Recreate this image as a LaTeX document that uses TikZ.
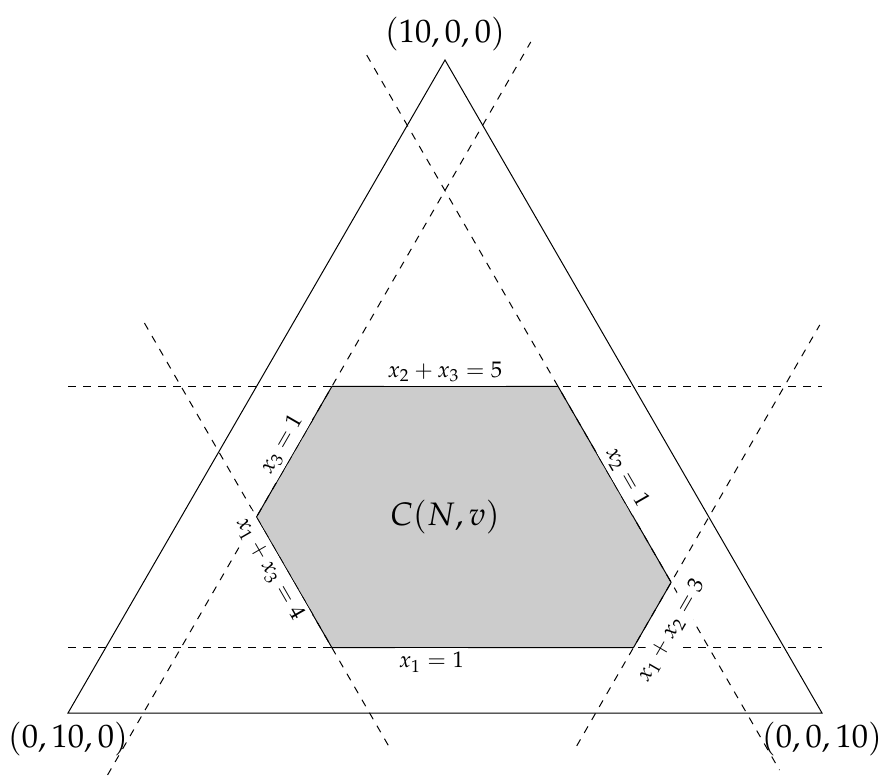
\documentclass[tikz,border=0pt]{standalone}
\usepackage{mathpazo}
\usetikzlibrary{calc}

\begin{document}
\begin{tikzpicture}[
  x=0.4pt, y=-0.4pt,
  core/.style={draw, fill=gray!40},
  cut/.style={dashed},
  eqlabel/.style={font=\small, fill=white, inner sep=1.5pt, sloped},
  vertex/.style={font=\fontsize{13}{15}\selectfont}
]
\useasboundingbox (0,0) rectangle (881,776);
\coordinate (A) at (445,60);
\coordinate (B) at (68,713);
\coordinate (C) at (822,713);

\coordinate (h1) at (barycentric cs:A=5,B=4,C=1);
\coordinate (h2) at (barycentric cs:A=5,B=1,C=4);
\coordinate (h3) at (barycentric cs:A=2,B=1,C=7);
\coordinate (h4) at (barycentric cs:A=1,B=2,C=7);
\coordinate (h5) at (barycentric cs:A=1,B=6,C=3);
\coordinate (h6) at (barycentric cs:A=3,B=6,C=1);

\filldraw[core] (h1) -- (h2) -- (h3) -- (h4) -- (h5) -- (h6) -- cycle;
\draw (A) -- (B) -- (C) -- cycle;

\draw[cut] (h1 -| B) -- (h1 -| C);
\draw[cut] (h5 -| B) -- (h5 -| C);
\draw[cut] ($(h6)!-1.975!(h1)$) -- ($(h6)!3.638!(h1)$);
\draw[cut] ($(h2)!-1.692!(h3)$) -- ($(h2)!1.958!(h3)$);
\draw[cut] ($(h6)!-1.486!(h5)$) -- ($(h6)!1.753!(h5)$);
\draw[cut] ($(h4)!-1.505!(h3)$) -- ($(h4)!4.942!(h3)$);

\path (h1) -- node[eqlabel, above] (l23) {$x_2+x_3=5$} (h2);
\path (h6) -- node[eqlabel, above] (l3) {$x_3=1$} (h1);
\path (h2) -- node[eqlabel, above] (l2) {$x_2=1$} (h3);
\path (h6) -- node[eqlabel, below, pos=0.34] (l13) {$x_1+x_3=4$} (h5);
\path (h4) -- node[eqlabel, below=4pt, pos=0.45] (l12) {$x_1+x_2=3$} (h3);
\node[eqlabel, below] (l1) at ($(h5)!0.33!(h4)$) {$x_1=1$};

\node[vertex] (core) at (h6 -| A) {$C(N,v)$};
\node[vertex, above] (topv) at (A) {$(10,0,0)$};
\node[vertex, below] (leftv) at (B) {$(0,10,0)$};
\node[vertex, below] (rightv) at (C) {$(0,0,10)$};
\end{tikzpicture}
\end{document}
